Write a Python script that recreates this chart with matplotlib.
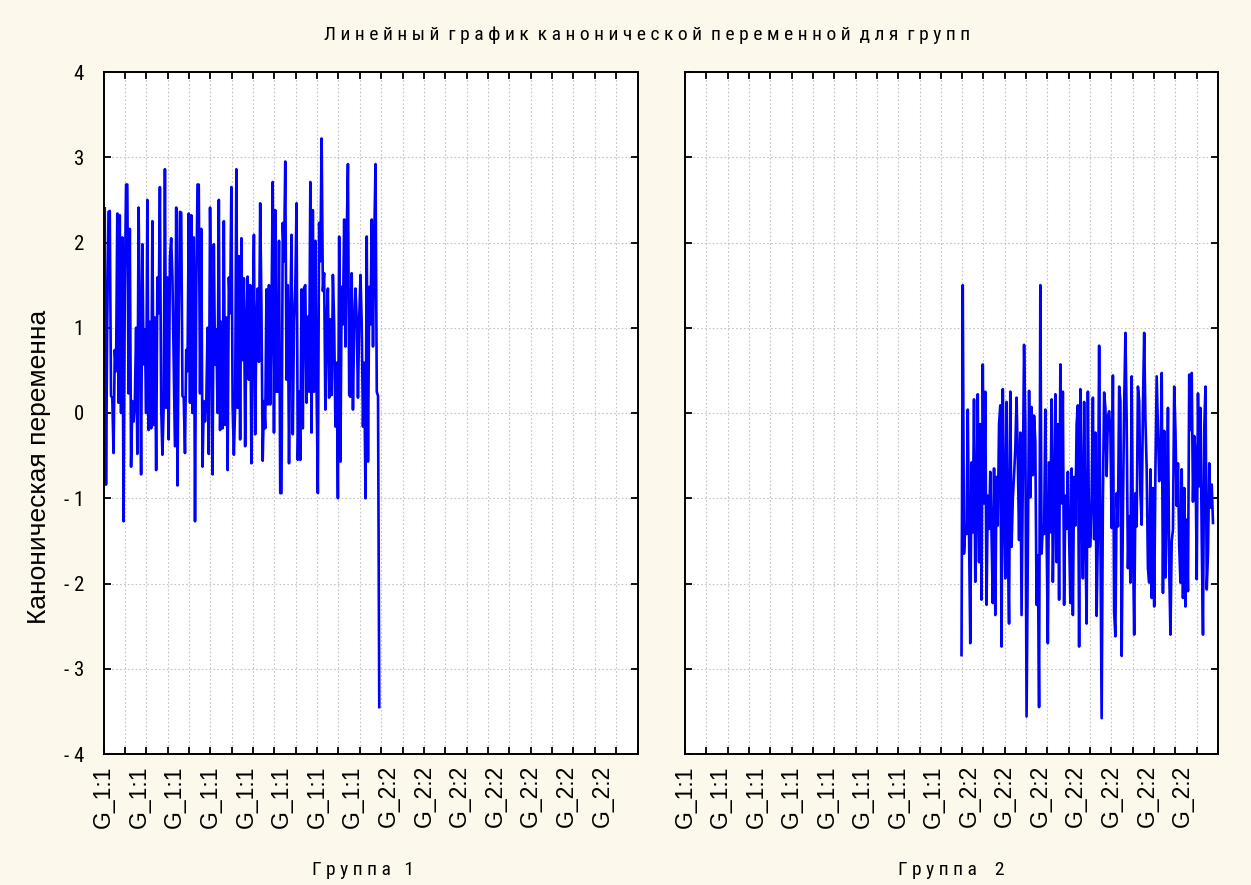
import matplotlib
matplotlib.use("Agg")
import matplotlib.pyplot as plt
from matplotlib import font_manager
import numpy as np

# canonical variable values, group 1 cases (read in three consecutive stretches)
g1_a = [2.40, -0.84, 1.05, 2.36, 2.37, 0.20, 0.18, -0.47, 0.74, 0.49,
        2.34, 0.12, 2.32, 0.00, 2.06, -1.27, 1.42, 2.68, 2.68, 0.23,
        2.16, -0.63, 0.14, -0.10, 0.12, 1.00, -0.48, 2.41, 1.03, -0.72,
        1.98, 0.57, 0.98, 0.00, 2.50, -0.20, 1.07, -0.18, 2.25, -0.14,
        1.12, -0.67, 1.59, 1.17, 2.65, 0.08, -0.49, 0.07, 2.86, 0.06,
        1.59, -0.31, 1.82, 2.05, 1.58, 0.63, -0.39]
g1_b = [2.41, -0.85, 1.05, 2.36, 2.35, 0.20, 0.18, -0.47, 0.74, 0.49,
        2.34, 0.12, 2.32, 0.00, 2.06, -1.27, 1.42, 2.68, 2.68, 0.23,
        2.16, -0.63, 0.14, -0.10, 0.12, 1.00, -0.48, 2.41, 1.03, -0.72,
        1.98, 0.57, 0.98, 0.00, 2.50, -0.20, 1.07, -0.18, 2.25, -0.14,
        1.12, -0.67, 1.59, 1.17, 2.65, 0.08, -0.49, 0.07, 2.86, 0.06]
g1_c = [1.84, -0.31, 2.05, 0.62, 1.58, -0.39, 1.05, 1.60, 0.39, 1.50,
        -0.59, 1.05, 2.09, -0.25, 1.05, 1.46, 0.60, 2.46, 1.25, -0.56,
        0.14, -0.18, 1.45, 0.10, 1.50, 0.10, 1.15, 2.71, -0.23, 2.38,
        0.25, 0.25, 2.02, -0.94, -0.94, 2.23, 1.78, 2.95, 0.39, 1.50,
        -0.59, 1.05, 2.09, -0.25, 1.07, 1.46, 2.46, -0.55, 0.25, -0.55,
        1.45, -0.18, 1.47, 1.50, 0.12, 1.13, 0.25, 2.71, -0.23, 2.38,
        0.25, 2.02, 0.25, -0.94, 2.23, 1.78, 3.22, 1.43, 1.64, 0.04,
        1.07, 1.46, 0.18, 1.10, 0.21, 1.62, 1.05, -0.16, 0.59, -1.00,
        2.07, -0.57, 1.48, 1.04, 2.27, 0.78, 2.05, 2.92, 0.21, 0.19,
        1.64, 0.04, 1.05, 1.46, 1.10, 0.18, 1.10, 1.62, 1.04, -0.16,
        0.59, -1.00, 2.07, -0.57, 1.48, 1.04, 2.27, 0.78, 2.05, 2.92,
        0.25, 0.20, -3.45]

# group 2 cases
g2_a = [-2.84, 1.50, -1.65, -1.32, -1.42, 0.04, -1.40, -2.70, -0.58, -1.40,
        0.16, -1.98, -1.06, 0.22, -1.75, -0.13, -2.19, 0.57, -1.06, 0.25,
        -2.25, -0.97, -1.36, -0.69, -1.42, -2.23, -0.65, -2.37, -0.75, -1.32,
        -0.13, 0.09, -2.74, 0.28, -1.01, -1.94, 0.13, -1.45, -2.47, 0.25,
        -1.57, -1.01, -0.73, -0.42, 0.18, -0.54, -1.49, -0.23, -2.37, -0.85,
        0.80, -0.11, -3.56, -1.63, 0.26, -0.99, 0.07, -0.73, -0.03, -0.34,
        -2.25, -1.67]
g2_b = [-3.45, 1.50, -1.65, -1.32, -1.42, 0.04, -1.40, -2.70, -0.58, -1.40,
        0.16, -1.98, -1.06, 0.22, -1.75, -0.13, -2.19, 0.57, -1.06, 0.25,
        -2.25, -0.97, -1.36, -0.69, -1.42, -2.23, -0.65, -2.37, -0.75, -1.32,
        -0.13, 0.09, -2.74, 0.28, -1.01, -1.94, 0.13, -1.45, -2.47, 0.25,
        -1.57]
g2_c = [-1.56, -1.00, 0.18, -1.48, -0.23, -2.38, -1.41, 0.79, -1.33, -3.58,
        -1.02, 0.24, 0.06, -0.74, -0.04, 0.02, -0.23, -1.35, 0.44, -2.34,
        -2.62, -0.94, -1.33, 0.31, 0.14, -2.85, -1.17, 0.08, 0.94, -0.08,
        -1.82, -1.21, -1.99, 0.43, -1.45, -2.60, -0.94, -1.33, 0.31, 0.14,
        -0.94, -1.31, 0.07, 0.94, -0.08, -0.66, -1.82, -1.99, -0.66, -2.17,
        -0.88, -2.27, -0.66, 0.43, -0.20, -0.80, -0.66, 0.47, -2.11, -0.21,
        -1.93, -1.11, 0.06, -1.82, -2.60, -1.50, -1.37, 0.31, -0.21, -1.09,
        -0.59, -1.56, -1.99, -0.66, -2.17, -0.88, -2.27, -1.25, -2.09, 0.45,
        -0.20, 0.47, -1.04, -0.27, -0.47, -1.95, 0.23, -0.86, 0.06, -1.50,
        -2.60, -0.18, 0.31, -2.07, -1.64, -0.59, -1.11, -0.84, -1.29]

case_names = ["G_1:1", "G_2:2"]
panel_titles = ["Г р у п п а   1", "Г р у п п а    2"]
title = "Л и н е й н ы й  г р а ф и к  к а н о н и ч е с к о й  п е р е м е н н о й  д л я  г р у п п"
ylabel = "Каноническая переменна"

g1 = np.array(g1_a + g1_b + g1_c)
g2 = np.array(g2_a + g2_b + g2_c)
n1, n2 = len(g1), len(g2)
x1 = np.arange(1, n1 + 1)
x2 = np.arange(n1 + 1, n1 + n2 + 1)
xmax = n1 + n2 + 4

# pick a narrow face for the small captions if one is around
have = {(f.name, f.stretch) for f in font_manager.fontManager.ttflist}
names = {n for n, _ in have}
narrow = dict(family=["DejaVu Sans"], fontstretch="normal")
narrow_ok = False
for fam in ["Liberation Sans Narrow", "Arial Narrow", "Roboto Condensed",
            "Open Sans Condensed", "Noto Sans Condensed", "DejaVu Sans Condensed"]:
    if fam in names:
        narrow = dict(family=[fam, "DejaVu Sans"], fontstretch="normal")
        narrow_ok = True
        break
if not narrow_ok:
    for n, st in have:
        if n in ("DejaVu Sans", "Noto Sans", "Open Sans") and st in ("condensed", "semi-condensed", 75, 87.5):
            narrow = dict(family=[n, "DejaVu Sans"], fontstretch=st)
            narrow_ok = True
            break
fs_small = 13 if narrow_ok else 11.5

bg = "#fdf8ec"

fig = plt.figure(figsize=(12.51, 8.85), dpi=100, facecolor=bg)
ax1 = fig.add_axes([103.5 / 1251, 1 - 754 / 885, 534 / 1251, 682 / 885])
ax2 = fig.add_axes([685 / 1251, 1 - 754 / 885, 533 / 1251, 682 / 885])

ax1.plot(x1, g1, color="#0000ff", lw=1.9)
ax2.plot(x2, g2, color="#0000ff", lw=1.9)

tick_pos = np.linspace(0, xmax, 26)
lab_pos = np.linspace(0, xmax, 16)[:-1]
lab_txt = [case_names[0] if p <= n1 else case_names[1] for p in lab_pos]

for ax in (ax1, ax2):
    ax.set_facecolor("white")
    ax.set_xlim(0, xmax)
    ax.set_ylim(-4, 4)
    ax.set_yticks(np.arange(-4, 5))
    ax.set_xticks(tick_pos)
    ax.set_xticklabels([])
    ax.xaxis.remove_overlapping_locs = False
    ax.set_xticks(lab_pos, minor=True)
    ax.set_xticklabels(lab_txt, minor=True, rotation=90, fontsize=16.5,
                       family="Liberation Sans", va="top")
    ax.tick_params(axis="x", which="minor", length=0, pad=8)
    ax.tick_params(which="major", direction="in", length=5, width=1.3,
                   top=True, right=True, bottom=True, left=True)
    ax.grid(True, which="major", color="#c4c4c4", ls=(0, (1.5, 2)), lw=0.8)
    for s in ax.spines.values():
        s.set_linewidth(1.4)
        s.set_color("black")

ax1.set_yticklabels([str(v) if v >= 0 else "- " + str(-v) for v in range(-4, 5)],
                    fontsize=fs_small + 2, **narrow)
ax1.tick_params(axis="y", pad=14)
ax2.set_yticklabels([])

fig.text(0.517, 0.960, title, ha="center", va="center", fontsize=fs_small + 1, **narrow)
fig.text(0.031, 0.472, ylabel, rotation=90, ha="center", va="center",
         family="Liberation Sans", fontsize=19)
fig.text((103.5 + 260) / 1251, 1 - 870 / 885, panel_titles[0], ha="center", va="center",
         fontsize=fs_small + 1, **narrow)
fig.text((685 + 266) / 1251, 1 - 870 / 885, panel_titles[1], ha="center", va="center",
         fontsize=fs_small + 1, **narrow)

fig.savefig("out.png", dpi=100, facecolor=bg)
